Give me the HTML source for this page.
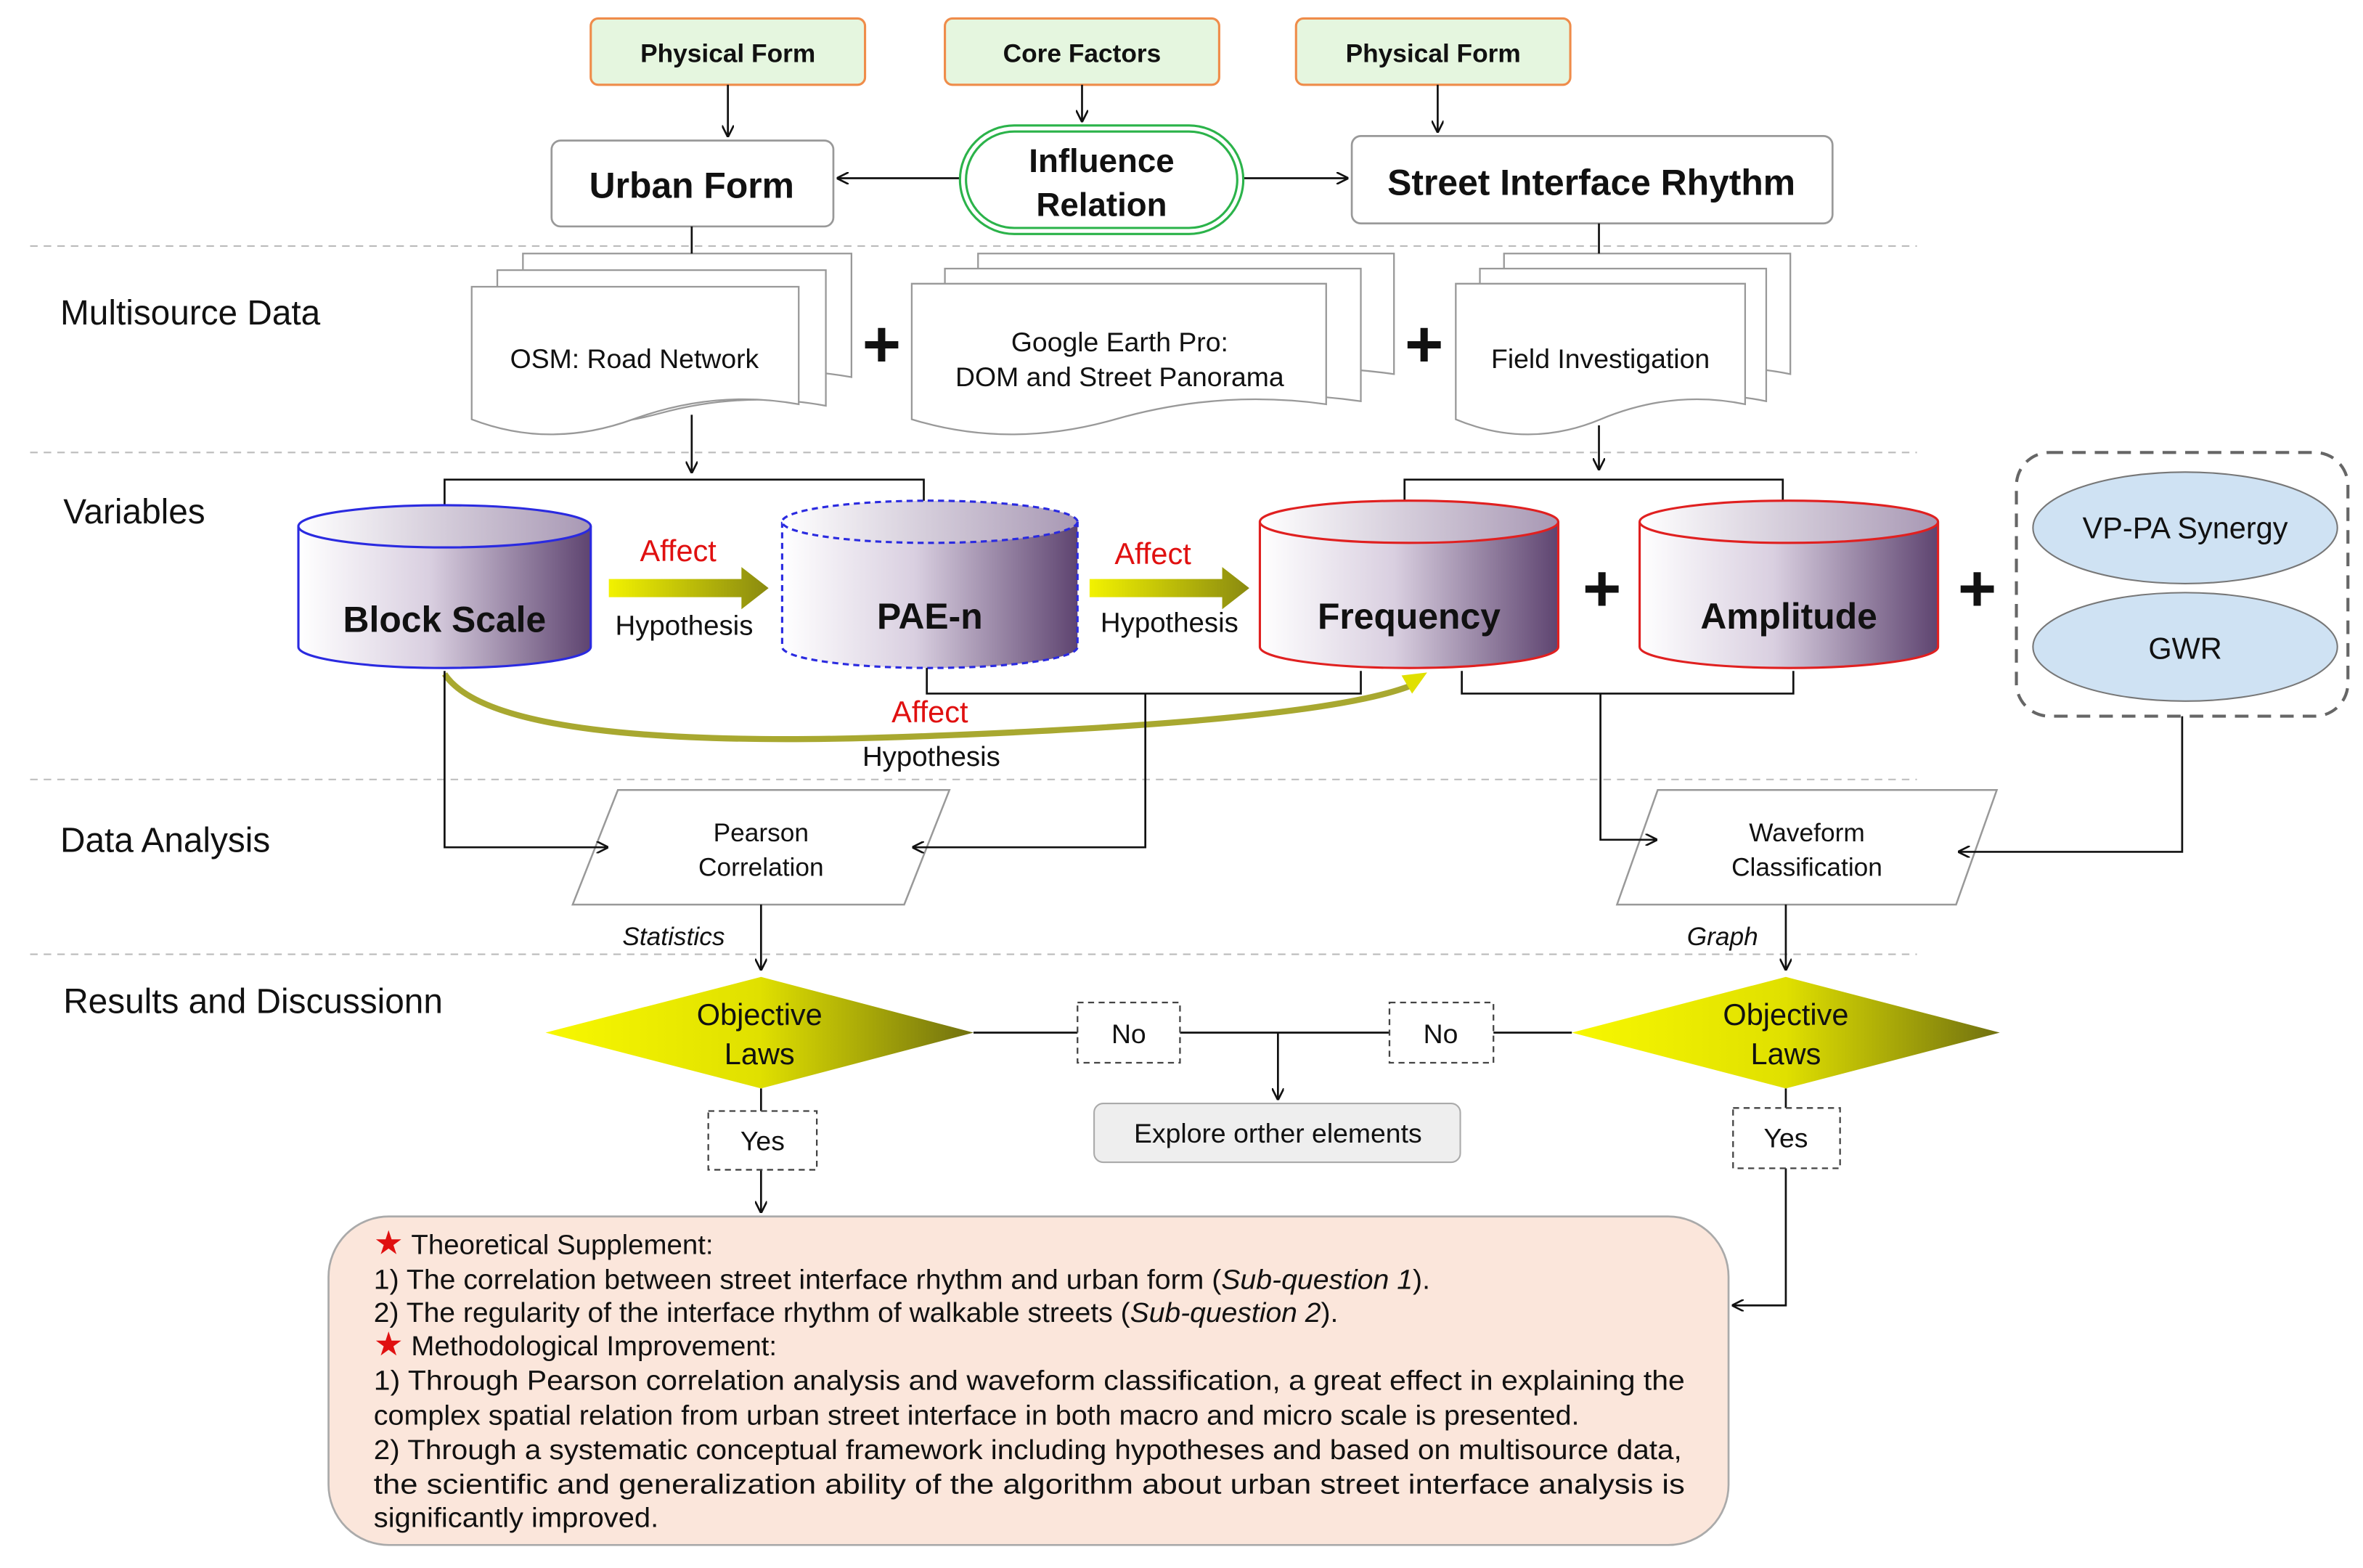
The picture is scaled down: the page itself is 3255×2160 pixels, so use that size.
<!DOCTYPE html>
<html><head><meta charset="utf-8"><style>
html,body{margin:0;padding:0;background:#fff;}
svg{display:block;}
text{font-family:"Liberation Sans",Arial,sans-serif;}
</style></head><body>
<svg width="3255" height="2160" viewBox="0 0 1568 1040" xmlns="http://www.w3.org/2000/svg" fill="#111">
<defs>
<marker id="ar" viewBox="0 0 10 10" refX="9" refY="5" markerWidth="8" markerHeight="8" orient="auto-start-reverse" markerUnits="userSpaceOnUse"><path d="M0,0 L10,5 L0,10" fill="none" stroke="#111" stroke-width="1.6"/></marker>
<linearGradient id="cyl" x1="0" x2="1" y1="0" y2="0"><stop offset="0" stop-color="#ffffff"/><stop offset="0.45" stop-color="#d9cfe0"/><stop offset="1" stop-color="#5e4470"/></linearGradient>
<linearGradient id="cylt" x1="0" x2="1"><stop offset="0" stop-color="#ffffff"/><stop offset="1" stop-color="#a898b4"/></linearGradient>
<linearGradient id="yel" x1="0" x2="1"><stop offset="0" stop-color="#f2f200"/><stop offset="1" stop-color="#8a8a10"/></linearGradient>
<linearGradient id="dia" x1="0" x2="1"><stop offset="0" stop-color="#f8f800"/><stop offset="0.5" stop-color="#e0e000"/><stop offset="1" stop-color="#707010"/></linearGradient>
</defs>

<g stroke="#bbb" stroke-width="1" stroke-dasharray="5,4">
<line x1="20" y1="163" x2="1272" y2="163"/><line x1="20" y1="300" x2="1272" y2="300"/>
<line x1="20" y1="517" x2="1272" y2="517"/><line x1="20" y1="633" x2="1272" y2="633"/>
</g>

<g stroke="#ef8c4a" stroke-width="1.5" fill="#e5f6df">
<rect x="392" y="12" width="182" height="44" rx="5"/><rect x="627" y="12" width="182" height="44" rx="5"/><rect x="860" y="12" width="182" height="44" rx="5"/>
</g>
<g font-size="17" font-weight="bold" text-anchor="middle">
<text x="483" y="41">Physical Form</text><text x="718" y="41">Core Factors</text><text x="951" y="41">Physical Form</text>
</g>
<g stroke="#111" stroke-width="1.3" fill="none" marker-end="url(#ar)">
<line x1="483" y1="56" x2="483" y2="90"/><line x1="718" y1="56" x2="718" y2="80"/><line x1="954" y1="56" x2="954" y2="87"/>
<line x1="637" y1="118" x2="556" y2="118"/><line x1="825" y1="118" x2="894" y2="118"/>
</g>
<rect x="366" y="93" width="187" height="57" rx="6" fill="#fff" stroke="#999" stroke-width="1.3"/>
<rect x="897" y="90" width="319" height="58" rx="6" fill="#fff" stroke="#999" stroke-width="1.3"/>
<rect x="637" y="83" width="188" height="72" rx="36" fill="#fff" stroke="#2bb34a" stroke-width="1.5"/>
<rect x="641" y="87" width="180" height="64" rx="32" fill="none" stroke="#2bb34a" stroke-width="1.5"/>
<g font-size="24" font-weight="bold" text-anchor="middle">
<text x="459" y="131">Urban Form</text><text x="1056" y="129">Street Interface Rhythm</text>
<text x="731" y="114" font-size="22">Influence</text><text x="731" y="143" font-size="22">Relation</text>
</g>

<g font-size="23">
<text x="40" y="215">Multisource Data</text><text x="42" y="347">Variables</text>
<text x="40" y="565">Data Analysis</text><text x="42" y="672">Results and Discussionn</text>
</g>

<g stroke="#999" stroke-width="1.1" fill="#fff">
<path d="M347,168 h218 v82 q-55,-10 -110,5 t-108,0 z"/>
<path d="M330,179 h218 v90 q-55,-10 -110,5 t-108,0 z"/>
<path d="M313,190 h217 v78 q-55,-10 -110,10 t-107,0 z"/>
<path d="M649,168 h276 v80 q-70,-10 -140,5 t-136,0 z"/>
<path d="M627,178 h276 v88 q-70,-10 -140,5 t-136,0 z"/>
<path d="M605,188 h275 v80 q-70,-10 -140,10 t-135,0 z"/>
<path d="M998,168 h190 v80 q-48,-10 -95,5 t-95,0 z"/>
<path d="M982,178 h190 v88 q-48,-10 -95,5 t-95,0 z"/>
<path d="M966,188 h192 v80 q-48,-10 -96,10 t-96,0 z"/>
</g>
<g font-size="18" text-anchor="middle">
<text x="421" y="244">OSM: Road Network</text>
<text x="743" y="233">Google Earth Pro:</text><text x="743" y="256">DOM and Street Panorama</text>
<text x="1062" y="244">Field Investigation</text>
</g>
<g font-size="44" text-anchor="middle" font-weight="bold"><text x="585" y="243">+</text><text x="945" y="243">+</text>
<text x="1063" y="405">+</text><text x="1312" y="405">+</text></g>
<g stroke="#111" stroke-width="1.3" fill="none">
<line x1="459" y1="150" x2="459" y2="168"/><line x1="1061" y1="148" x2="1061" y2="168"/>
<line x1="459" y1="275" x2="459" y2="313" marker-end="url(#ar)"/>
<line x1="1061" y1="282" x2="1061" y2="311" marker-end="url(#ar)"/>
<polyline points="295,335 295,318 613,318 613,335"/>
<polyline points="932,335 932,318 1183,318 1183,335"/>
</g>

<g stroke-width="1.5">
<path d="M198,349 v80 a97,14 0 0 0 194,0 v-80" fill="url(#cyl)" stroke="#2a2ae0"/>
<ellipse cx="295" cy="349" rx="97" ry="14" fill="url(#cylt)" stroke="#2a2ae0"/>
<path d="M519,346 v83 a98,14 0 0 0 196,0 v-83" fill="url(#cyl)" stroke="#2a2ae0" stroke-dasharray="4,3"/>
<ellipse cx="617" cy="346" rx="98" ry="14" fill="url(#cylt)" stroke="#2a2ae0" stroke-dasharray="4,3"/>
<path d="M836,346 v83 a99,14 0 0 0 198,0 v-83" fill="url(#cyl)" stroke="#e02020"/>
<ellipse cx="935" cy="346" rx="99" ry="14" fill="url(#cylt)" stroke="#e02020"/>
<path d="M1088,346 v83 a99,14 0 0 0 198,0 v-83" fill="url(#cyl)" stroke="#e02020"/>
<ellipse cx="1187" cy="346" rx="99" ry="14" fill="url(#cylt)" stroke="#e02020"/>
</g>
<g font-size="24" font-weight="bold" text-anchor="middle">
<text x="295" y="419">Block Scale</text><text x="617" y="417">PAE-n</text>
<text x="935" y="417">Frequency</text><text x="1187" y="417">Amplitude</text>
</g>
<path d="M404,384 h88 v-8 l18,14 l-18,14 v-8 h-88 z" fill="url(#yel)"/>
<path d="M723,384 h88 v-8 l18,14 l-18,14 v-8 h-88 z" fill="url(#yel)"/>
<path d="M295,447 Q330,500 620,488 Q880,478 938,454" fill="none" stroke="#a8a830" stroke-width="4"/>
<path d="M930,448 l17,-2 l-10,14 z" fill="#e0e000"/>
<g font-size="20" text-anchor="middle" fill="#e01010">
<text x="450" y="372">Affect</text><text x="765" y="374">Affect</text><text x="617" y="479">Affect</text>
</g>
<g font-size="18.5" text-anchor="middle">
<text x="454" y="421">Hypothesis</text><text x="776" y="419">Hypothesis</text><text x="618" y="508">Hypothesis</text>
</g>

<rect x="1338" y="300" width="220" height="175" rx="22" fill="none" stroke="#666" stroke-width="2" stroke-dasharray="9,6"/>
<ellipse cx="1450" cy="350" rx="101" ry="37" fill="#cfe2f3" stroke="#777" stroke-width="1"/>
<ellipse cx="1450" cy="429" rx="101" ry="36" fill="#cfe2f3" stroke="#777" stroke-width="1"/>
<g font-size="20" text-anchor="middle"><text x="1450" y="357">VP-PA Synergy</text><text x="1450" y="437">GWR</text></g>

<g fill="#fff" stroke="#999" stroke-width="1.2">
<polygon points="410,524 630,524 600,600 380,600"/>
<polygon points="1100,524 1325,524 1298,600 1073,600"/>
</g>
<g stroke="#111" stroke-width="1.3" fill="none">
<polyline points="295,445 295,562 403,562" marker-end="url(#ar)"/>
<polyline points="615,443 615,460 903,460 903,445"/>
<polyline points="760,460 760,562 606,562" marker-end="url(#ar)"/>
<polyline points="970,445 970,460 1190,460 1190,445"/>
<polyline points="1062,460 1062,557 1099,557" marker-end="url(#ar)"/>
<polyline points="1448,475 1448,565 1300,565" marker-end="url(#ar)"/>
<line x1="505" y1="600" x2="505" y2="643" marker-end="url(#ar)"/>
<line x1="1185" y1="600" x2="1185" y2="643" marker-end="url(#ar)"/>
</g>
<g font-size="17" text-anchor="middle">
<text x="505" y="558">Pearson</text><text x="505" y="581">Correlation</text>
<text x="1199" y="558">Waveform</text><text x="1199" y="581">Classification</text>
</g>
<g font-size="17" font-style="italic" text-anchor="middle"><text x="447" y="627">Statistics</text><text x="1143" y="627">Graph</text></g>

<g stroke="#111" stroke-width="1.3" fill="none">
<line x1="646" y1="685" x2="1043" y2="685"/>
<line x1="848" y1="685" x2="848" y2="729" marker-end="url(#ar)"/>
<line x1="505" y1="722" x2="505" y2="737"/>
<line x1="505" y1="776" x2="505" y2="804" marker-end="url(#ar)"/>
<line x1="1185" y1="722" x2="1185" y2="735"/>
<polyline points="1185,775 1185,866 1150,866" marker-end="url(#ar)"/>
</g>
<polygon points="362,685 505,648 646,685 505,722" fill="url(#dia)"/>
<polygon points="1043,685 1185,648 1327,685 1185,722" fill="url(#dia)"/>
<g font-size="20" text-anchor="middle">
<text x="504" y="680">Objective</text><text x="504" y="706">Laws</text>
<text x="1185" y="680">Objective</text><text x="1185" y="706">Laws</text>
</g>
<g fill="#fff" stroke="#444" stroke-width="1.1" stroke-dasharray="4,3">
<rect x="715" y="665" width="68" height="40"/><rect x="922" y="665" width="69" height="40"/>
<rect x="470" y="737" width="72" height="39"/><rect x="1150" y="735" width="71" height="40"/>
</g>
<g font-size="18" text-anchor="middle">
<text x="749" y="692">No</text><text x="956" y="692">No</text>
<text x="506" y="763">Yes</text><text x="1185" y="761">Yes</text>
</g>
<rect x="726" y="732" width="243" height="39" rx="6" fill="#eeeeee" stroke="#aaa" stroke-width="1"/>
<text x="848" y="758" font-size="18" text-anchor="middle">Explore orther elements</text>

<rect x="218" y="807" width="929" height="218" rx="40" fill="#fbe6db" stroke="#aaa" stroke-width="1.3"/>
<g font-size="18.5" lengthAdjust="spacingAndGlyphs">
<text x="248" y="832"><tspan fill="#e01010" font-size="22">★</tspan> <tspan>Theoretical Supplement:</tspan></text>
<text x="248" y="855" textLength="701" lengthAdjust="spacingAndGlyphs">1) The correlation between street interface rhythm and urban form (<tspan font-style="italic">Sub-question 1</tspan>).</text>
<text x="248" y="877" textLength="640" lengthAdjust="spacingAndGlyphs">2) The regularity of the interface rhythm of walkable streets (<tspan font-style="italic">Sub-question 2</tspan>).</text>
<text x="248" y="899"><tspan fill="#e01010" font-size="22">★</tspan> <tspan>Methodological Improvement:</tspan></text>
<text x="248" y="922" textLength="870" lengthAdjust="spacingAndGlyphs">1) Through Pearson correlation analysis and waveform classification, a great effect in explaining the</text>
<text x="248" y="945" textLength="800" lengthAdjust="spacingAndGlyphs">complex spatial relation from urban street interface in both macro and micro scale is presented.</text>
<text x="248" y="968" textLength="868" lengthAdjust="spacingAndGlyphs">2) Through a systematic conceptual framework including hypotheses and based on multisource data,</text>
<text x="248" y="991" textLength="870" lengthAdjust="spacingAndGlyphs">the scientific and generalization ability of the algorithm about urban street interface analysis is</text>
<text x="248" y="1013" textLength="189" lengthAdjust="spacingAndGlyphs">significantly improved.</text>
</g>
</svg>
</body></html>
